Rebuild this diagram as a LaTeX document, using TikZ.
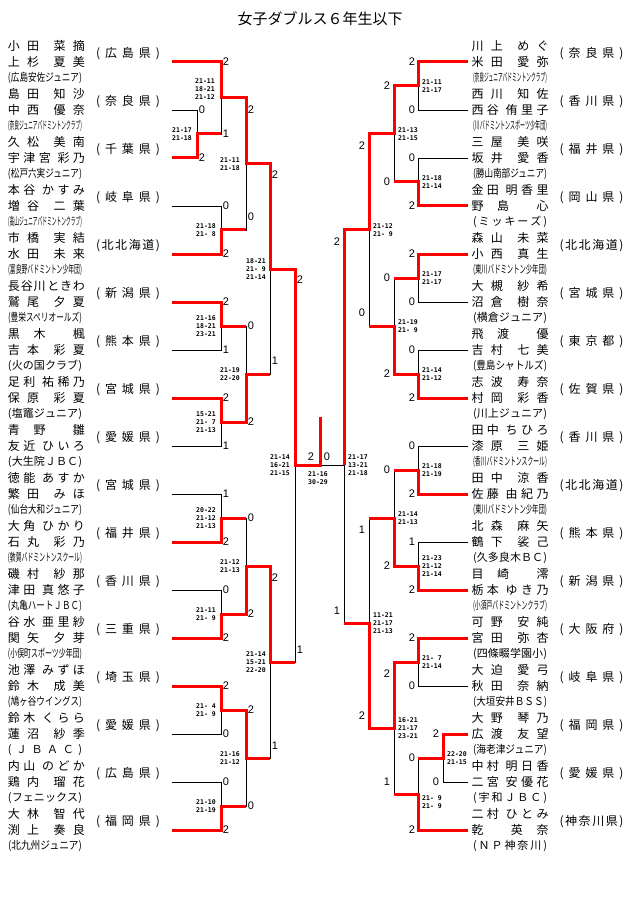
\documentclass[tikz,border=0pt]{standalone}
\usepackage{fontspec}
\usepackage{graphicx}
\newfontfamily\jpf{Noto Sans CJK JP}
\newfontfamily\scf{DejaVu Sans Mono}
\newfontfamily\wnf{Liberation Sans}
\def\spr#1{\sprA#1\relax}
\def\sprA#1#2{#1\ifx\relax#2\else\hfill\expandafter\sprA\expandafter#2\fi}
\newcommand\nmx[2]{\hbox to 77pt{\expandafter\spr\expandafter{#1}\hfill\hfill\expandafter\spr\expandafter{#2}}}
\newcommand\pfx[1]{\hbox to 64pt{(\hfill\expandafter\spr\expandafter{#1}\hfill)}}
\newsavebox\clb
\newcommand\clx[1]{\sbox\clb{(#1)}\ifdim\wd\clb>74pt\relax\resizebox{74pt}{\height}{\usebox\clb}\else\hbox to 74pt{(\hfill\expandafter\spr\expandafter{#1}\hfill)}\fi}
\begin{document}
\begin{tikzpicture}[x=1pt,y=-1pt,
 bl/.style={draw=black,line width=0.9pt},
 rd/.style={draw=red,line width=3pt,line join=miter},
 nmst/.style={inner sep=0pt,font=\jpf\fontsize{12}{12}\selectfont},
 clst/.style={inner sep=0pt,font=\jpf\fontsize{11}{11}\selectfont},
 pfst/.style={inner sep=0pt,font=\jpf\fontsize{12}{12}\selectfont},
 wn/.style={inner sep=0pt,font=\wnf\fontsize{11}{11}\selectfont},
 scl/.style={inner sep=0pt,align=right,anchor=east,font=\scf\bfseries\fontsize{6.5}{8}\selectfont},
 scr/.style={inner sep=0pt,align=left,anchor=west,font=\scf\bfseries\fontsize{6.5}{8}\selectfont},
 scc/.style={inner sep=0pt,align=center,font=\scf\bfseries\fontsize{6.5}{8}\selectfont},
 ttl/.style={inner sep=0pt,font=\jpf\fontsize{15}{15}\selectfont}]
\fill[white] (0,0) rectangle (640,909);
\useasboundingbox (0,0) rectangle (640,909);

\node[ttl] (title) at (320,19) {女子ダブルス６年生以下};

% left entries
\foreach \fa/\ga/\fb/\gb/\cb/\pr [count=\i] in {
小田/菜摘/上杉/夏美/広島安佐ジュニア/広島県,
島田/知沙/中西/優奈/奈良ジュニアバドミントンクラブ/奈良県,
久松/美南/宇津宮/彩乃/松戸六実ジュニア/千葉県,
本谷/かすみ/増谷/二葉/高山ジュニアバドミントンクラブ/岐阜県,
市橋/実結/水田/未来/富良野バドミントン少年団/北北海道,
長谷川/ときわ/鷲尾/夕夏/豊栄スペリオールズ/新潟県,
黒木/楓/吉本/彩夏/火の国クラブ/熊本県,
足利/祐稀乃/保原/彩夏/塩竈ジュニア/宮城県,
青野/雛/友近/ひいろ/大生院ＪＢＣ/愛媛県,
徳能/あすか/繁田/みほ/仙台大和ジュニア/宮城県,
大角/ひかり/石丸/彩乃/敦賀バドミントンスクール/福井県,
磯村/紗那/津田/真悠子/丸亀ハートＪＢＣ/香川県,
谷水/亜里紗/関矢/夕芽/小俣町スポーツ少年団/三重県,
池澤/みずほ/鈴木/成美/鳩ヶ谷ウイングス/埼玉県,
鈴木/くらら/蓮沼/紗季/ＪＢＡＣ/愛媛県,
内山/のどか/鶏内/瑠花/フェニックス/広島県,
大林/智代/渕上/奏良/北九州ジュニア/福岡県}{
 \node[nmst] (la-\i) at (46.5,{46+48*(\i-1)}) {\nmx{\fa}{\ga}};
 \node[nmst] (lb-\i) at (46.5,{62+48*(\i-1)}) {\nmx{\fb}{\gb}};
 \node[clst] (lc-\i) at (45,{78+48*(\i-1)}) {\clx{\cb}};
 \node[pfst] (lp-\i) at (128,{54+48*(\i-1)}) {\pfx{\pr}};
}

% right entries
\foreach \fa/\ga/\fb/\gb/\cb/\pr [count=\i] in {
川上/めぐ/米田/愛弥/奈良ジュニアバドミントンクラブ/奈良県,
西川/知佐/西谷/侑里子/川バドミントンスポーツ少年団/香川県,
三屋/美咲/坂井/愛香/勝山南部ジュニア/福井県,
金田/明香里/野島/心/ミッキーズ/岡山県,
森山/未菜/小西/真生/東川バドミントン少年団/北北海道,
大槻/紗希/沼倉/樹奈/横倉ジュニア/宮城県,
飛渡/優/吉村/七美/豊島シャトルズ/東京都,
志波/寿奈/村岡/彩香/川上ジュニア/佐賀県,
田中/ちひろ/漆原/三姫/香川バドミントンスクール/香川県,
田中/涼香/佐藤/由紀乃/東川バドミントン少年団/北北海道,
北森/麻矢/鶴下/裟己/久多良木ＢＣ/熊本県,
目崎/澪/栃本/ゆき乃/小須戸バドミントンクラブ/新潟県,
可野/安純/宮田/弥杏/四條畷学園小/大阪府,
大迫/愛弓/秋田/奈納/大垣安井ＢＳＳ/岐阜県,
大野/琴乃/広渡/友望/海老津ジュニア/福岡県,
中村/明日香/二宮/安優花/宇和ＪＢＣ/愛媛県,
二村/ひとみ/乾/英奈/ＮＰ神奈川/神奈川県}{
 \node[nmst] (ra-\i) at (510,{46+48*(\i-1)}) {\nmx{\fa}{\ga}};
 \node[nmst] (rb-\i) at (510,{62+48*(\i-1)}) {\nmx{\fb}{\gb}};
 \node[clst] (rc-\i) at (510,{78+48*(\i-1)}) {\clx{\cb}};
 \node[pfst] (rp-\i) at (591.5,{54+48*(\i-1)}) {\pfx{\pr}};
}

% black bracket lines: vertical x / top y / top start x / bottom y / bottom start x
\foreach \v/\a/\xa/\b/\xb in {
197/110/172/158/172, 221/62/172/134/197, 221/206/172/254/172, 246/98/221/230/221,
221/302/172/350/172, 221/398/172/446/172, 246/326/221/422/221, 270/164/246/374/246,
221/494/172/542/172, 221/590/172/638/172, 246/518/221/614/221, 221/686/172/734/172,
221/782/172/830/172, 246/710/221/806/221, 270/566/246/758/246, 295/269/270/662/270,
418/62/468/110/468, 418/158/468/206/468, 394/86/418/182/418, 418/254/468/302/468,
418/350/468/398/468, 394/278/418/374/418, 369/134/394/326/394, 418/446/468/494/468,
418/542/468/590/468, 394/470/418/566/418, 418/638/468/686/468, 443/734/468/782/468,
418/758/443/830/468, 394/662/418/794/418, 369/518/394/728/394, 344/230/369/623/369}{
 \draw[bl] (\xa,\a) -- (\v,\a) -- (\v,\b) -- (\xb,\b);
}
\draw[bl] (344,465) -- (320,465);

% red winner paths, left
\draw[rd] (172,62) -- (221,62) -- (221,98) -- (246,98) -- (246,164) -- (270,164) -- (270,269) -- (295,269) -- (295,465) -- (320,465) -- (320,417);
\draw[rd] (172,158) -- (197,158) -- (197,134) -- (221,134);
\draw[rd] (172,254) -- (221,254) -- (221,230) -- (246,230);
\draw[rd] (172,302) -- (221,302) -- (221,326) -- (246,326);
\draw[rd] (172,398) -- (221,398) -- (221,422) -- (246,422) -- (246,374) -- (270,374);
\draw[rd] (172,542) -- (221,542) -- (221,518) -- (246,518);
\draw[rd] (172,638) -- (221,638) -- (221,614) -- (246,614) -- (246,566) -- (270,566) -- (270,662) -- (295,662);
\draw[rd] (172,686) -- (221,686) -- (221,710) -- (246,710) -- (246,758) -- (270,758);
\draw[rd] (172,830) -- (221,830) -- (221,806) -- (246,806);
% red winner paths, right
\draw[rd] (468,62) -- (418,62) -- (418,86) -- (394,86) -- (394,134) -- (369,134) -- (369,230) -- (344,230) -- (344,465);
\draw[rd] (468,206) -- (418,206) -- (418,182) -- (394,182);
\draw[rd] (468,254) -- (418,254) -- (418,278) -- (394,278);
\draw[rd] (468,398) -- (418,398) -- (418,374) -- (394,374) -- (394,326) -- (369,326);
\draw[rd] (468,494) -- (418,494) -- (418,470) -- (394,470);
\draw[rd] (468,590) -- (418,590) -- (418,566) -- (394,566) -- (394,518) -- (369,518);
\draw[rd] (468,638) -- (418,638) -- (418,662) -- (394,662) -- (394,728) -- (369,728) -- (369,623) -- (344,623);
\draw[rd] (468,734) -- (443,734) -- (443,758) -- (418,758);
\draw[rd] (468,830) -- (418,830) -- (418,794) -- (394,794);

% games won
\foreach \x/\y/\t [count=\k] in {
202/110/0, 202/158/2, 226/62/2, 226/134/1, 226/206/0, 226/254/2,
251/110/2, 251/217/0, 226/302/2, 226/350/1, 226/398/2, 226/446/1,
251/326/0, 251/422/2, 275/175/2, 275/361/1, 300/280/2, 300/650/1,
226/494/1, 226/542/2, 226/590/0, 226/638/2, 251/518/0, 251/614/2,
226/686/2, 226/734/0, 226/782/0, 226/830/2, 251/710/2, 251/806/0,
275/578/2, 275/746/1, 311/457/2, 327/457/0,
412/62/2, 412/110/0, 412/158/0, 412/206/2, 387/86/2, 387/182/0,
412/254/2, 412/302/0, 412/350/0, 412/398/2, 387/278/0, 387/374/2,
362/146/2, 362/313/0, 337/242/2, 337/611/1, 412/446/0, 412/494/2,
412/542/1, 412/590/2, 387/470/0, 387/566/2, 362/530/1, 362/716/2,
412/638/2, 412/686/0, 436/734/2, 436/782/0, 412/758/0, 412/830/2,
387/674/2, 387/782/1}{
 \node[wn] (w-\k) at (\x,\y) {\t};
}

% game scores, left side
\foreach \x/\y/\t [count=\k] in {
192/134/21-17\\21-18, 215/89/21-11\\18-21\\21-12, 216/230/21-18\\21- 8,
240/164/21-11\\21-18, 216/326/21-16\\18-21\\23-21, 216/422/15-21\\21- 7\\21-13,
240/374/21-19\\22-20, 266/269/18-21\\21- 9\\21-14, 216/518/20-22\\21-12\\21-13,
216/614/21-11\\21- 9, 240/566/21-12\\21-13, 216/710/21- 4\\21- 9,
216/806/21-10\\21-19, 240/758/21-16\\21-12, 266/662/21-14\\15-21\\22-20,
290/465/21-14\\16-21\\21-15}{
 \node[scl] (sl-\k) at (\x,\y) {\t};
}
\node[scc] (sfinal) at (318,478) {21-16\\30-29};
% game scores, right side
\foreach \x/\y/\t [count=\k] in {
422/86/21-11\\21-17, 422/182/21-18\\21-14, 398/134/21-13\\21-15,
422/278/21-17\\21-17, 422/374/21-14\\21-12, 398/326/21-19\\21- 9,
373/230/21-12\\21- 9, 422/470/21-18\\21-19, 422/566/21-23\\21-12\\21-14,
398/518/21-14\\21-13, 422/662/21- 7\\21-14, 447/758/22-20\\21-15,
422/802/21- 9\\21- 9, 398/728/16-21\\21-17\\23-21, 373/623/11-21\\21-17\\21-13,
348/465/21-17\\13-21\\21-18}{
 \node[scr] (sr-\k) at (\x,\y) {\t};
}
\end{tikzpicture}
\end{document}
